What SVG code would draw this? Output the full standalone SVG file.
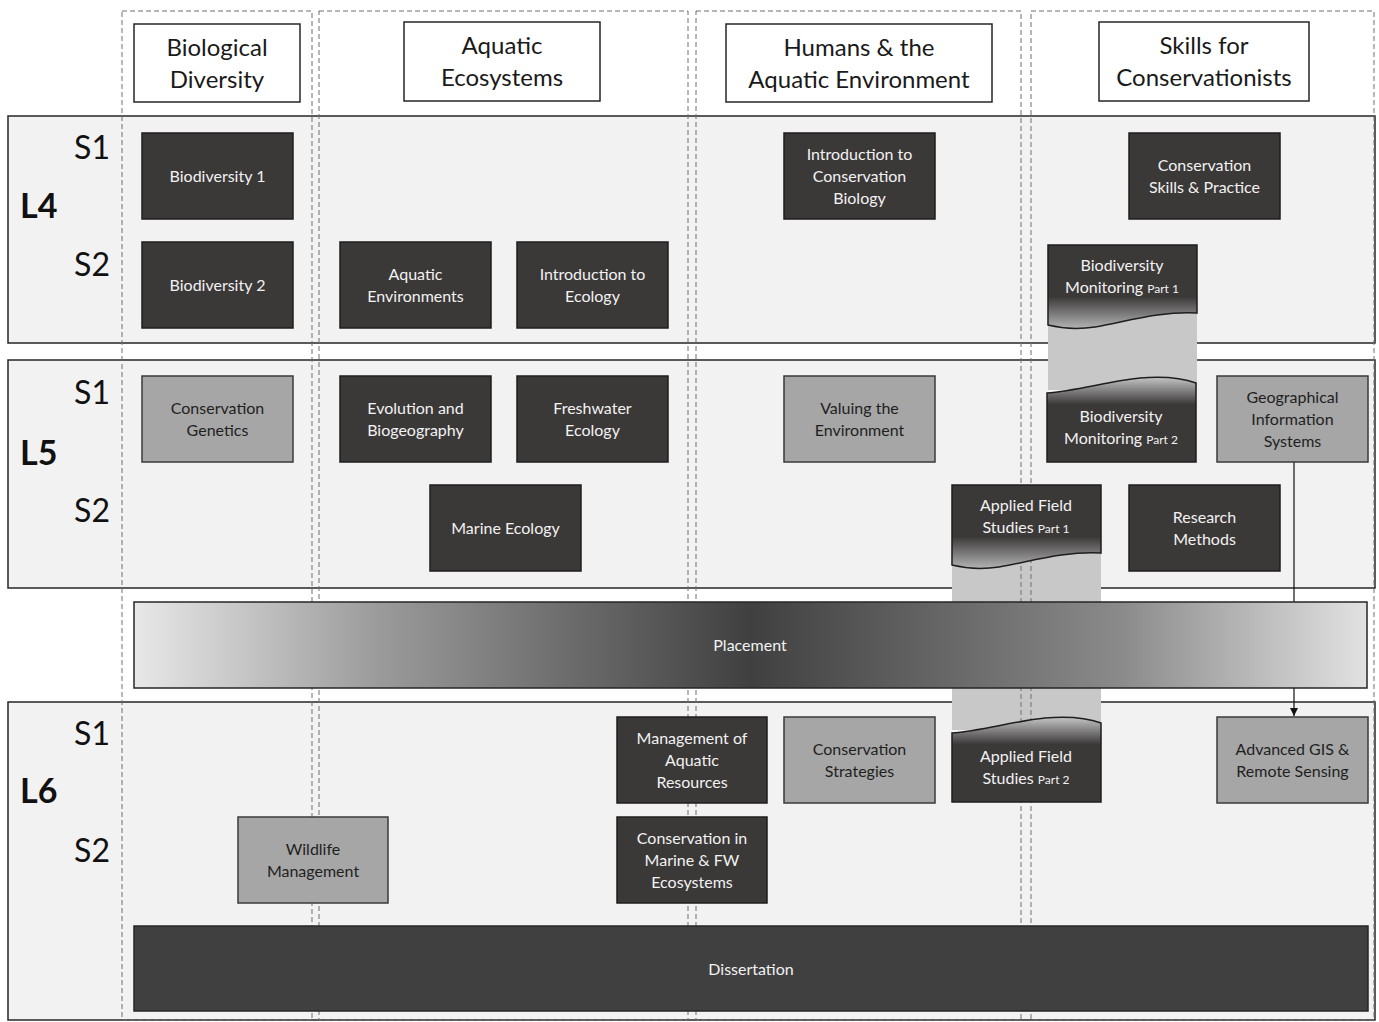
<svg xmlns="http://www.w3.org/2000/svg" width="1379" height="1022" viewBox="0 0 1379 1022">
<defs>
<style>
.band{fill:#f2f2f2;stroke:#262626;stroke-width:1.5}
.col{fill:none;stroke:#6e6e6e;stroke-width:1;stroke-dasharray:5 3}
.hdr{fill:#ffffff;stroke:#262626;stroke-width:1.5}
.dk{fill:#3b3838;stroke:#1e1e1e;stroke-width:1.5}
.lt{fill:#a6a6a6;stroke:#3a3a3a;stroke-width:1.5}
.link{fill:#c8c8c8}
text{font-family:Lato,"Liberation Sans",sans-serif}
.tw{font-size:16px;fill:#f2f2f2;text-anchor:middle}
.tb{font-size:16px;fill:#1f1f1f;text-anchor:middle}
.th{font-size:24px;fill:#1a1a1a;text-anchor:middle}
.sl{font-size:32px;fill:#111;text-anchor:end}
.ll{font-size:34px;font-weight:bold;fill:#111}
.pt{font-size:12px}
</style>
<linearGradient id="fadeBottom" x1="0" y1="0" x2="0" y2="1">
<stop offset="0" stop-color="#3b3838"/>
<stop offset="0.62" stop-color="#3b3838"/>
<stop offset="1" stop-color="#b4b4b4"/>
</linearGradient>
<linearGradient id="fadeTop" x1="0" y1="0" x2="0" y2="1">
<stop offset="0" stop-color="#c4c4c4"/>
<stop offset="0.32" stop-color="#3b3838"/>
<stop offset="1" stop-color="#3b3838"/>
</linearGradient>
<linearGradient id="placeGrad" x1="0" y1="0" x2="1" y2="0">
<stop offset="0" stop-color="#e8e8e8"/>
<stop offset="0.2" stop-color="#9a9a9a"/>
<stop offset="0.5" stop-color="#404040"/>
<stop offset="0.8" stop-color="#8a8a8a"/>
<stop offset="1" stop-color="#e2e2e2"/>
</linearGradient>
<marker id="arrow" markerWidth="8" markerHeight="8" refX="8" refY="4" orient="auto" markerUnits="userSpaceOnUse">
<path d="M0,0 L8,4 L0,8 Z" fill="#111"/>
</marker>
</defs>

<rect width="1379" height="1022" fill="#ffffff"/>

<!-- level bands -->
<g id="bands">
<rect class="band" x="8" y="116" width="1367" height="227"/>
<rect class="band" x="8" y="360" width="1367" height="228"/>
<rect class="band" x="8" y="702" width="1367" height="318"/>
</g>

<!-- continuation bands for split modules -->
<g id="links">
<rect class="link" x="1048" y="305" width="149" height="85"/>
<rect class="link" x="952" y="545" width="149" height="185"/>
</g>

<!-- theme columns -->
<g id="columns">
<rect class="col" x="122" y="11" width="190" height="1009"/>
<rect class="col" x="319" y="11" width="369" height="1009"/>
<rect class="col" x="696" y="11" width="325" height="1009"/>
<rect class="col" x="1031" y="11" width="343" height="1009"/>
</g>

<!-- headers -->
<g id="hdr-bio">
<rect class="hdr" x="134" y="24" width="166" height="78"/>
<text class="th" x="217" y="55.5">Biological</text>
<text class="th" x="217" y="87.5">Diversity</text>
</g>
<g id="hdr-aqua">
<rect class="hdr" x="404" y="22" width="196" height="79"/>
<text class="th" x="502" y="53.5">Aquatic</text>
<text class="th" x="502" y="85.5">Ecosystems</text>
</g>
<g id="hdr-human">
<rect class="hdr" x="726" y="24" width="266" height="78"/>
<text class="th" x="859" y="55.5">Humans &amp; the</text>
<text class="th" x="859" y="87.5">Aquatic Environment</text>
</g>
<g id="hdr-skills">
<rect class="hdr" x="1099" y="22" width="210" height="79"/>
<text class="th" x="1204" y="53.5">Skills for</text>
<text class="th" x="1204" y="85.5">Conservationists</text>
</g>

<!-- level / semester labels -->
<g id="labels">
<text class="sl" x="110" y="159">S1</text>
<text class="ll" x="20" y="218">L4</text>
<text class="sl" x="110" y="276">S2</text>
<text class="sl" x="110" y="404">S1</text>
<text class="ll" x="20" y="465">L5</text>
<text class="sl" x="110" y="522">S2</text>
<text class="sl" x="110" y="745">S1</text>
<text class="ll" x="20" y="803">L6</text>
<text class="sl" x="110" y="862">S2</text>
</g>

<!-- connectors -->
<g id="connectors">
<line x1="1294" y1="462" x2="1294" y2="716" stroke="#111" stroke-width="1.2" marker-end="url(#arrow)"/>
</g>

<!-- placement -->
<g id="placement">
<rect x="134" y="602" width="1233" height="86" fill="url(#placeGrad)" stroke="#262626" stroke-width="1.5"/>
<text class="tw" x="750" y="650.5">Placement</text>
</g>

<!-- L4 -->
<g id="biodiversity1">
<rect class="dk" x="142" y="133" width="151" height="86"/>
<text class="tw" x="217.5" y="181.5">Biodiversity 1</text>
</g>
<g id="biodiversity2">
<rect class="dk" x="142" y="242" width="151" height="86"/>
<text class="tw" x="217.5" y="290.5">Biodiversity 2</text>
</g>
<g id="aquatic-env">
<rect class="dk" x="340" y="242" width="151" height="86"/>
<text class="tw" x="415.5" y="279.5">Aquatic</text>
<text class="tw" x="415.5" y="301.5">Environments</text>
</g>
<g id="intro-ecology">
<rect class="dk" x="517" y="242" width="151" height="86"/>
<text class="tw" x="592.5" y="279.5">Introduction to</text>
<text class="tw" x="592.5" y="301.5">Ecology</text>
</g>
<g id="intro-cons-bio">
<rect class="dk" x="784" y="133" width="151" height="86"/>
<text class="tw" x="859.5" y="159.5">Introduction to</text>
<text class="tw" x="859.5" y="181.5">Conservation</text>
<text class="tw" x="859.5" y="203.5">Biology</text>
</g>
<g id="cons-skills">
<rect class="dk" x="1129" y="133" width="151" height="86"/>
<text class="tw" x="1204.5" y="170.5">Conservation</text>
<text class="tw" x="1204.5" y="192.5">Skills &amp; Practice</text>
</g>
<g id="biomon1">
<path d="M1048,245 H1197 V313 C1160,311 1125,322 1095,327 C1075,330 1060,328 1048,325 Z" fill="url(#fadeBottom)" stroke="#1e1e1e" stroke-width="1.5"/>
<text class="tw" x="1122" y="270.5">Biodiversity</text>
<text class="tw" x="1122" y="292.5">Monitoring <tspan class="pt">Part 1</tspan></text>
</g>

<!-- L5 -->
<g id="cons-genetics">
<rect class="lt" x="142" y="376" width="151" height="86"/>
<text class="tb" x="217.5" y="413.5">Conservation</text>
<text class="tb" x="217.5" y="435.5">Genetics</text>
</g>
<g id="evolution">
<rect class="dk" x="340" y="376" width="151" height="86"/>
<text class="tw" x="415.5" y="413.5">Evolution and</text>
<text class="tw" x="415.5" y="435.5">Biogeography</text>
</g>
<g id="freshwater">
<rect class="dk" x="517" y="376" width="151" height="86"/>
<text class="tw" x="592.5" y="413.5">Freshwater</text>
<text class="tw" x="592.5" y="435.5">Ecology</text>
</g>
<g id="valuing">
<rect class="lt" x="784" y="376" width="151" height="86"/>
<text class="tb" x="859.5" y="413.5">Valuing the</text>
<text class="tb" x="859.5" y="435.5">Environment</text>
</g>
<g id="biomon2">
<path d="M1047,393 C1075,391 1110,381 1140,378 C1165,376 1185,379 1196,383 V462 H1047 Z" fill="url(#fadeTop)" stroke="#1e1e1e" stroke-width="1.5"/>
<text class="tw" x="1121" y="421.5">Biodiversity</text>
<text class="tw" x="1121" y="443.5">Monitoring <tspan class="pt">Part 2</tspan></text>
</g>
<g id="gis">
<rect class="lt" x="1217" y="376" width="151" height="86"/>
<text class="tb" x="1292.5" y="402.5">Geographical</text>
<text class="tb" x="1292.5" y="424.5">Information</text>
<text class="tb" x="1292.5" y="446.5">Systems</text>
</g>
<g id="marine-ecology">
<rect class="dk" x="430" y="485" width="151" height="86"/>
<text class="tw" x="505.5" y="533.5">Marine Ecology</text>
</g>
<g id="afs1">
<path transform="translate(-96,240)" d="M1048,245 H1197 V313 C1160,311 1125,322 1095,327 C1075,330 1060,328 1048,325 Z" fill="url(#fadeBottom)" stroke="#1e1e1e" stroke-width="1.5"/>
<text class="tw" x="1026" y="510.5">Applied Field</text>
<text class="tw" x="1026" y="532.5">Studies <tspan class="pt">Part 1</tspan></text>
</g>
<g id="research-methods">
<rect class="dk" x="1129" y="485" width="151" height="86"/>
<text class="tw" x="1204.5" y="522.5">Research</text>
<text class="tw" x="1204.5" y="544.5">Methods</text>
</g>

<!-- L6 -->
<g id="mgmt-aquatic">
<rect class="dk" x="617" y="717" width="150" height="86"/>
<text class="tw" x="692" y="743.5">Management of</text>
<text class="tw" x="692" y="765.5">Aquatic</text>
<text class="tw" x="692" y="787.5">Resources</text>
</g>
<g id="cons-strategies">
<rect class="lt" x="784" y="717" width="151" height="86"/>
<text class="tb" x="859.5" y="754.5">Conservation</text>
<text class="tb" x="859.5" y="776.5">Strategies</text>
</g>
<g id="afs2">
<path transform="translate(-95,340)" d="M1047,393 C1075,391 1110,381 1140,378 C1165,376 1185,379 1196,383 V462 H1047 Z" fill="url(#fadeTop)" stroke="#1e1e1e" stroke-width="1.5"/>
<text class="tw" x="1026" y="761.5">Applied Field</text>
<text class="tw" x="1026" y="783.5">Studies <tspan class="pt">Part 2</tspan></text>
</g>
<g id="adv-gis">
<rect class="lt" x="1217" y="717" width="151" height="86"/>
<text class="tb" x="1292.5" y="754.5">Advanced GIS &amp;</text>
<text class="tb" x="1292.5" y="776.5">Remote Sensing</text>
</g>
<g id="wildlife">
<rect class="lt" x="238" y="817" width="150" height="86"/>
<text class="tb" x="313" y="854.5">Wildlife</text>
<text class="tb" x="313" y="876.5">Management</text>
</g>
<g id="cons-marine-fw">
<rect class="dk" x="617" y="817" width="150" height="86"/>
<text class="tw" x="692" y="843.5">Conservation in</text>
<text class="tw" x="692" y="865.5">Marine &amp; FW</text>
<text class="tw" x="692" y="887.5">Ecosystems</text>
</g>
<g id="dissertation">
<rect x="134" y="926" width="1234" height="85" fill="#404040" stroke="#262626" stroke-width="1.5"/>
<text class="tw" x="751" y="974.5">Dissertation</text>
</g>
</svg>
